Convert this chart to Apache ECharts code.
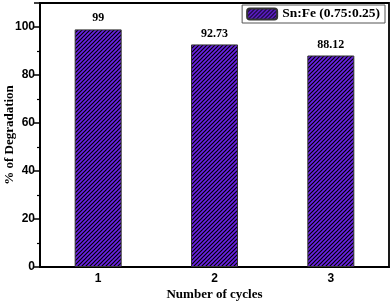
<!DOCTYPE html>
<html><head><meta charset="utf-8">
<script src="https://cdn.jsdelivr.net/npm/echarts@6/dist/echarts.min.js"></script>
<style>html,body{margin:0;padding:0;background:#fff}#c{width:392px;height:303px}</style>
</head><body><div id="c"></div>
<script>
const categories = ['1', '2', '3'];
const degradation = [99, 92.73, 88.12];
const seriesName = 'Sn:Fe (0.75:0.25)';
const yTicks = [0, 20, 40, 60, 80, 100];

function hatch() {
  const c = document.createElement('canvas');
  c.width = 4; c.height = 4;
  const g = c.getContext('2d');
  g.fillStyle = '#6a22e6';
  g.fillRect(0, 0, 4, 4);
  g.strokeStyle = '#000';
  g.lineWidth = 1.2;
  g.beginPath();
  g.moveTo(-1, 1); g.lineTo(1, -1);
  g.moveTo(0, 4); g.lineTo(4, 0);
  g.moveTo(3, 5); g.lineTo(5, 3);
  g.stroke();
  return c;
}
const pat = { image: hatch(), repeat: 'repeat' };

const chart = echarts.init(document.getElementById('c'), null, { renderer: 'canvas' });
chart.setOption({
  animation: false,
  backgroundColor: '#fff',
  grid: { left: 40, right: 3, top: 3, bottom: 36, containLabel: false, outerBoundsMode: 'none', show: true, borderColor: '#000', borderWidth: 1.8, backgroundColor: 'transparent' },
  legend: {
    data: [seriesName],
    right: 7, top: 5,
    padding: [2, 5, 2, 4],
    itemWidth: 30, itemHeight: 11,
    borderColor: '#555', borderWidth: 1,
    textStyle: { fontFamily: 'Liberation Serif', fontWeight: 'bold', fontSize: 13.5, color: '#000' }
  },
  xAxis: [{
    type: 'category', data: categories, boundaryGap: true,
    name: 'Number of cycles', nameLocation: 'middle', nameGap: 21, nameMoveOverlap: false,
    nameTextStyle: { fontFamily: 'Liberation Serif', fontWeight: 'bold', fontSize: 13, color: '#000' },
    axisLine: { lineStyle: { color: '#000', width: 1.8 } },
    axisTick: { alignWithLabel: true, length: 6, lineStyle: { color: '#000', width: 1.5 } },
    axisLabel: { fontFamily: 'Liberation Sans', fontWeight: 'bold', fontSize: 12, color: '#000', margin: 6 }
  }, {
    type: 'category', data: categories, boundaryGap: true, position: 'bottom',
    axisLine: { show: false },
    axisTick: { length: 3, lineStyle: { color: '#000', width: 1.2 } },
    axisLabel: { show: false }
  }],
  yAxis: {
    type: 'value', min: 0, max: 110, interval: 20,
    name: '% of Degradation', nameLocation: 'middle', nameGap: 24, nameRotate: 90, nameMoveOverlap: false,
    nameTextStyle: { fontFamily: 'Liberation Serif', fontWeight: 'bold', fontSize: 13, color: '#000' },
    axisLine: { show: true, lineStyle: { color: '#000', width: 1.8 } },
    axisTick: { show: true, length: 6, lineStyle: { color: '#000', width: 1.5 } },
    minorTick: { show: true, splitNumber: 2, length: 3, lineStyle: { color: '#000', width: 1.2 } },
    splitLine: { show: false },
    axisLabel: {
      fontFamily: 'Liberation Sans', fontWeight: 'bold', fontSize: 12, color: '#000', margin: 5,
      formatter: v => (yTicks.indexOf(v) >= 0 ? String(v) : '')
    }
  },
  series: [{
    name: seriesName, type: 'bar', data: degradation, barWidth: 47,
    itemStyle: { color: pat, borderColor: '#333', borderWidth: 1 },
    label: { show: true, position: 'top', distance: 5, fontFamily: 'Liberation Serif', fontWeight: 'bold', fontSize: 12, color: '#000' }
  }]
});
</script></body></html>
